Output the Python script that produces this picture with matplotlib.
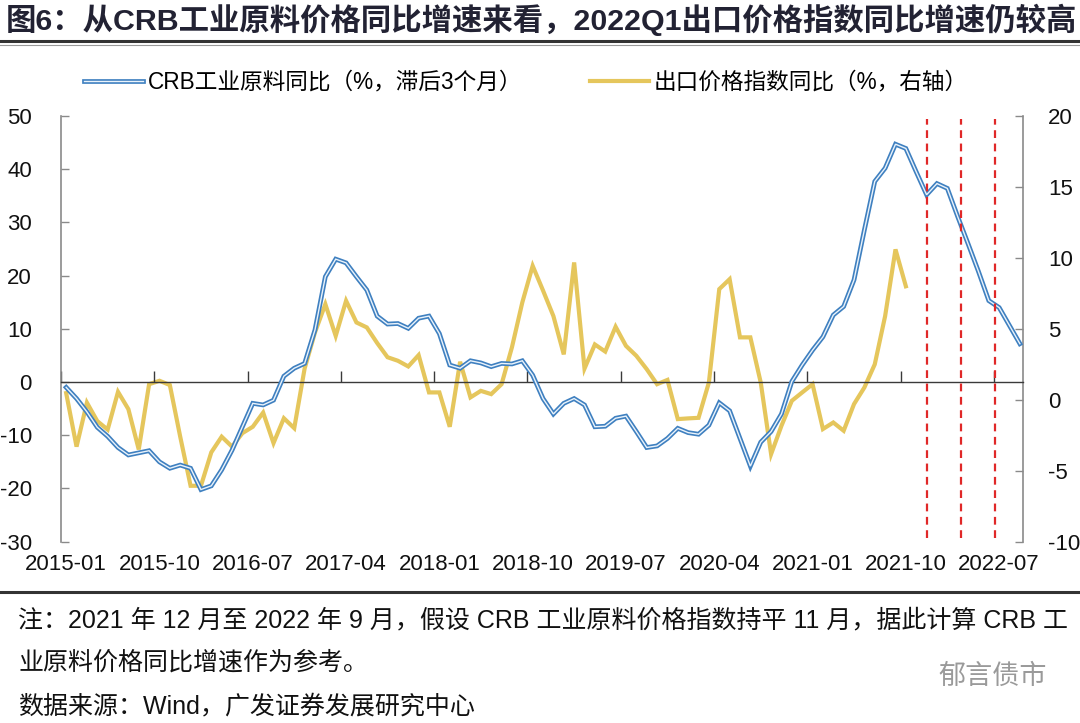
import matplotlib
matplotlib.use("Agg")
import matplotlib.pyplot as plt
from matplotlib.lines import Line2D
import matplotlib.patheffects as pe
import numpy as np
import pandas as pd

plt.rcParams['font.family'] = ['Liberation Sans', 'Noto Sans CJK SC']
plt.rcParams['axes.unicode_minus'] = False

# ---- data ----
months = pd.date_range('2015-01-01', '2022-09-01', freq='MS').strftime('%Y-%m').tolist()
tick_labels = ['2015-01', '2015-10', '2016-07', '2017-04', '2018-01', '2018-10',
               '2019-07', '2020-04', '2021-01', '2021-10', '2022-07']

crb_yoy = [-1.0, -3.1, -5.6, -8.5, -10.2, -12.3, -13.7, -13.3, -12.9, -15.0,
           -16.2, -15.6, -16.2, -20.2, -19.5, -16.5, -12.8, -8.4, -4.0, -4.3,
           -3.4, 1.1, 2.6, 3.5, 9.8, 19.8, 23.1, 22.4, 19.8, 17.3,
           12.4, 10.9, 11.0, 10.1, 12.0, 12.4, 9.1, 3.2, 2.6, 4.0,
           3.6, 2.9, 3.5, 3.4, 4.0, 1.3, -3.1, -6.0, -4.0, -3.1,
           -4.3, -8.4, -8.3, -6.8, -6.4, -9.3, -12.3, -12.0, -10.6, -8.7,
           -9.5, -9.8, -8.1, -3.9, -5.4, -10.6, -15.8, -11.3, -9.3, -6.0,
           0.1, 3.2, 6.0, 8.5, 12.6, 14.2, 19.2, 28.6, 37.7, 40.2,
           44.7, 43.9, 39.5, 35.2, 37.3, 36.4, 31.1, 26.0, 20.8, 15.3,
           14.0, 10.6, 7.2]

export_yoy = [0.47, -3.3, -0.2, -1.5, -2.1, 0.56, -0.66, -3.5, 1.1, 1.34,
              1.04, -2.6, -6.06, -6.06, -3.7, -2.6, -3.3, -2.35, -1.9, -0.9,
              -3.05, -1.3, -2.0, 2.2, 4.75, 6.74, 4.5, 6.98, 5.45, 5.1,
              4.0, 3.0, 2.75, 2.35, 3.15, 0.52, 0.52, -1.9, 2.68, 0.17,
              0.63, 0.4, 1.1, 3.7, 6.86, 9.44, 7.7, 5.9, 3.2, 9.68,
              2.2, 3.9, 3.4, 5.15, 3.8, 3.1, 2.16, 1.1, 1.4, -1.36,
              -1.31, -1.27, 1.22, 7.8, 8.5, 4.4, 4.4, 1.22, -3.83, -1.83,
              -0.07, 0.52, 1.1, -2.06, -1.6, -2.18, -0.3, 0.87, 2.5, 5.9,
              10.6, 8.0]

ref_lines = [83.0, 86.3, 89.6]   # red dashed markers (category position)

left_ticks = [-30, -20, -10, 0, 10, 20, 30, 40, 50]
right_ticks = [-10, -5, 0, 5, 10, 15, 20]

label_crb = 'CRB工业原料同比（%，滞后3个月）'
label_exp = '出口价格指数同比（%，右轴）'

# ---- figure ----
fig = plt.figure(figsize=(10.8, 7.23), dpi=100)
ax = fig.add_axes([61/1080, 1-541.7/723, (1023-61)/1080, (541.7-116)/723])
ax2 = ax.twinx()

x_crb = np.arange(len(crb_yoy))
x_exp = np.arange(len(export_yoy))

BLUE = '#3F80C0'
YELLOW = '#E5C65C'

ax2.plot(x_exp, export_yoy, color=YELLOW, lw=3.0, solid_joinstyle='miter',
         label=label_exp, zorder=2)
ax.plot(x_crb, crb_yoy, color='#EAF3FB', lw=1.0, solid_joinstyle='miter',
        label=label_crb, zorder=3,
        path_effects=[pe.Stroke(linewidth=3.4, foreground=BLUE), pe.Normal()])

for xv in ref_lines:
    ax.axvline(xv, ymin=0.008, ymax=0.993, color='#E02828', lw=1.6,
               ls=(0, (3.5, 2.5)), zorder=5)

ax.set_zorder(ax2.get_zorder() + 1)
ax.patch.set_visible(False)

ax.set_xlim(-0.5, 92.3)
ax.set_ylim(-30, 50)
ax2.set_ylim(-10, 20)

# x axis at zero line with upward tick marks
ax.spines['bottom'].set_position(('data', 0))
ax.spines['bottom'].set_color('#3a3a3a')
ax.spines['bottom'].set_linewidth(1.0)
tick_idx = [months.index(t) for t in tick_labels]
ax.set_xticks([i - 0.5 for i in tick_idx])
ax.tick_params(axis='x', direction='in', length=8, width=1.0, color='#3a3a3a',
               labelbottom=False)

sec = ax.secondary_xaxis('bottom')
sec.set_xticks(tick_idx, tick_labels)
sec.tick_params(length=0, pad=9, labelsize=16, labelcolor='#111111')
sec.spines['bottom'].set_visible(False)

for s in ['top', 'right']:
    ax.spines[s].set_visible(False)
ax.spines['left'].set_color('#8a8a8a')
ax.spines['left'].set_linewidth(1.2)
ax.set_yticks(left_ticks)
ax.tick_params(axis='y', direction='in', length=6, width=1.0, color='#8a8a8a',
               pad=21, labelsize=16, labelcolor='#111111')

for s in ['top', 'left', 'bottom']:
    ax2.spines[s].set_visible(False)
ax2.spines['right'].set_color('#8a8a8a')
ax2.spines['right'].set_linewidth(1.2)
ax2.set_yticks(right_ticks)
ax2.tick_params(axis='y', direction='in', length=6, width=1.0, color='#8a8a8a',
                pad=18, labelsize=16, labelcolor='#111111')

# legend
h1, l1 = ax.get_legend_handles_labels()
h2, l2 = ax2.get_legend_handles_labels()
fig.legend(h1 + h2, l1 + l2,
           loc='center', bbox_to_anchor=(0.487, 1-82/723), ncol=2, frameon=False,
           fontsize=16.3, handlelength=2.6, handletextpad=0.2, columnspacing=3.0)

# title and frame lines
fig.text(0.005, 1-20/723, '图6：从CRB工业原料价格同比增速来看，2022Q1出口价格指数同比增速仍较高',
         fontsize=21.9, fontweight='bold', color='#222233', va='center', ha='left')
fig.add_artist(Line2D([0, 1], [1-41/723, 1-41/723], color='#333333', lw=2.2))
fig.add_artist(Line2D([0, 1], [1-44.5/723, 1-44.5/723], color='#999999', lw=0.8))
fig.add_artist(Line2D([0, 1], [1-592/723, 1-592/723], color='#333333', lw=2.2))

# notes
fig.text(18/1080, 1-620/723,
         '注：2021 年 12 月至 2022 年 9 月，假设 CRB 工业原料价格指数持平 11 月，据此计算 CRB 工',
         fontsize=18, color='#111111', va='center', ha='left')
fig.text(18/1080, 1-663/723, '业原料价格同比增速作为参考。',
         fontsize=18, color='#111111', va='center', ha='left')
fig.text(18/1080, 1-706/723, '数据来源：Wind，广发证券发展研究中心',
         fontsize=18, color='#111111', va='center', ha='left')
fig.text(938/1080, 1-677/723, '郁言债市', fontsize=19.5, color='#9a9a9a',
         va='center', ha='left')

fig.savefig('out.png', dpi=100)
